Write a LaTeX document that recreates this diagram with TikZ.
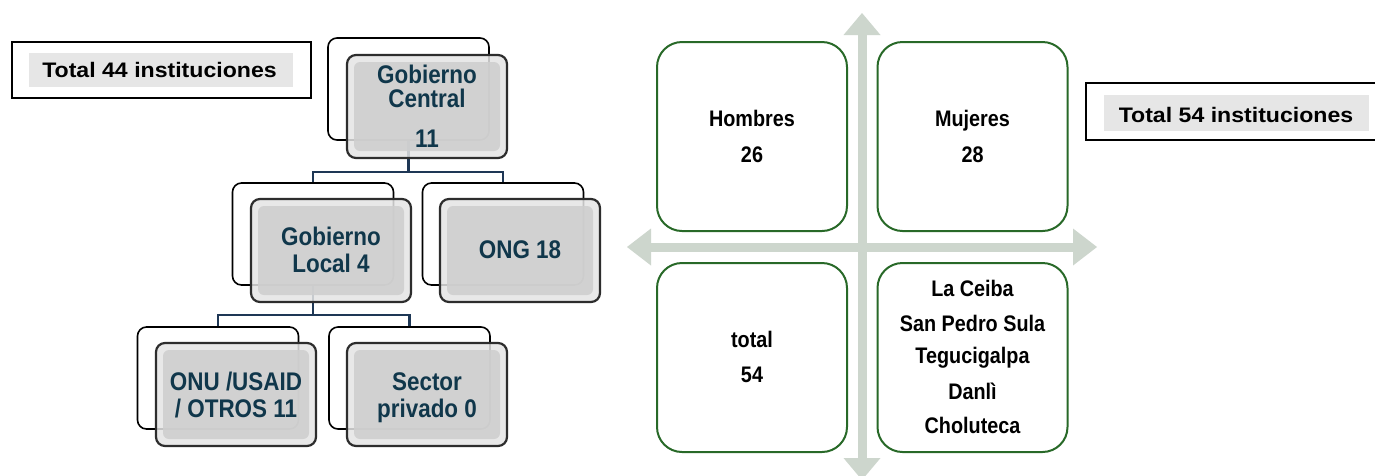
\documentclass[tikz,border=0pt]{standalone}
\usepackage{fontspec}
\setmainfont{Liberation Sans}
\newfontfamily\narrowf[FakeStretch=0.88]{Liberation Sans}
\newfontfamily\widef[FakeStretch=1.1]{Liberation Sans}
\definecolor{treetext}{RGB}{16,55,75}
\definecolor{conncol}{RGB}{30,55,85}
\definecolor{frontdraw}{RGB}{45,45,45}
\definecolor{frontfill}{RGB}{228,228,228}
\definecolor{bevelfill}{RGB}{206,206,206}
\definecolor{qgreen}{RGB}{40,105,40}
\definecolor{crosscol}{RGB}{205,214,205}
\definecolor{totgray}{RGB}{230,230,230}
\begin{document}
\begin{tikzpicture}[x=1pt,y=-1pt,
  back/.style={draw=black, line width=1.6pt, fill=white, rounded corners=9pt, minimum width=161pt, minimum height=102pt, inner sep=0pt},
  front/.style={draw=frontdraw, line width=2.2pt, fill=frontfill, fill opacity=0.85, rounded corners=9pt, minimum width=160pt, minimum height=103pt, inner sep=0pt},
  bevel/.style={fill=bevelfill, fill opacity=0.85, rounded corners=6pt, minimum width=146pt, minimum height=89pt, inner sep=0pt},
  conn/.style={draw=conncol, line width=2.5pt},
  ttext/.style={font=\narrowf\bfseries\fontsize{25.5}{30}\selectfont, text=treetext, anchor=base, inner sep=0pt},
  qtext/.style={font=\narrowf\bfseries\fontsize{22.5}{26}\selectfont, text=black, anchor=base, inner sep=0pt},
  tot/.style={font=\widef\bfseries\fontsize{21}{25}\selectfont, text=black, anchor=base, inner sep=0pt},
  quad/.style={draw=qgreen, line width=2pt, fill=white, rounded corners=25pt, minimum width=190pt, minimum height=189pt, inner sep=0pt},
  outerbox/.style={draw=black, line width=1.6pt, fill=white, inner sep=0pt},
  innerbox/.style={fill=totgray, inner sep=0pt}
]
\clip (0,0) rectangle (1375,475);
\fill[white] (0,0) rectangle (1375,475);

% ---------- left: tree ----------
\node[outerbox, minimum width=299pt, minimum height=56pt] (t44o) at (161.5,70) {};
\node[innerbox, minimum width=264pt, minimum height=34pt] (t44i) at (161,70) {};
\node[tot] (t44) at (159.5,77) {Total 44 instituciones};

\node[back] (gcb) at (408.5,89) {};
\node[back] (glb) at (313,234) {};
\node[back] (ongb) at (503,234) {};
\node[back] (onub) at (218,378) {};
\node[back] (secb) at (409.5,378) {};

\coordinate (j1) at (408.5,172);
\coordinate (j2) at (313,315);
\draw[conn] (gcb.south) -- (j1) -| (glb.north);
\draw[conn] (j1) -| (ongb.north);
\draw[conn] (glb.south) -- (j2) -| (onub.north);
\draw[conn] (j2) -| (secb.north);

\node[front] (gcf) at (427,106.5) {};
\node[bevel] (gcfi) at (gcf) {};
\node[front] (glf) at (331,250.5) {};
\node[bevel] (glfi) at (glf) {};
\node[front] (ongf) at (520,250.5) {};
\node[bevel] (ongfi) at (ongf) {};
\node[front] (onuf) at (236,394.5) {};
\node[bevel] (onufi) at (onuf) {};
\node[front] (secf) at (427,394.5) {};
\node[bevel] (secfi) at (secf) {};

\node[ttext] (gc1) at (427,83) {Gobierno};
\node[ttext] (gc2) at (427,107) {Central};
\node[ttext] (gc3) at (427,147) {11};
\node[ttext] (gl1) at (331,245) {Gobierno};
\node[ttext] (gl2) at (331,272) {Local 4};
\node[ttext] (ong1) at (520,258) {ONG 18};
\node[ttext] (onu1) at (236,390) {ONU /USAID};
\node[ttext] (onu2) at (236,417) {/ OTROS 11};
\node[ttext] (sec1) at (427,390) {Sector};
\node[ttext] (sec2) at (427,417) {privado 0};

% ---------- right: quadrants ----------
\fill[crosscol] (857.5,35) rectangle (866.5,458);
\fill[crosscol] (862,13) -- (880.5,35) -- (843.5,35) -- cycle;
\fill[crosscol] (862,480) -- (880.5,458) -- (843.5,458) -- cycle;
\fill[crosscol] (651,242.5) rectangle (1073,251.5);
\fill[crosscol] (627,247) -- (651,228.5) -- (651,265.5) -- cycle;
\fill[crosscol] (1097,247) -- (1073,228.5) -- (1073,265.5) -- cycle;

\node[quad] (hq) at (752,136.5) {};
\node[quad] (mq) at (972.5,136.5) {};
\node[quad] (tq) at (752,357.5) {};
\node[quad] (cq) at (972.5,357.5) {};

\node[qtext] (h1) at (752,126) {Hombres};
\node[qtext] (h2) at (752,162) {26};
\node[qtext] (m1) at (972.5,126) {Mujeres};
\node[qtext] (m2) at (972.5,162) {28};
\node[qtext] (tt1) at (752,347) {total};
\node[qtext] (tt2) at (752,382) {54};
\node[qtext] (c1) at (972.5,296) {La Ceiba};
\node[qtext] (c2) at (972.5,331) {San Pedro Sula};
\node[qtext] (c3) at (972.5,363) {Tegucigalpa};
\node[qtext] (c4) at (972.5,399) {Danlì};
\node[qtext] (c5) at (972.5,433) {Choluteca};

\node[outerbox, minimum width=294pt, minimum height=57pt] (t54o) at (1233,111.5) {};
\node[innerbox, minimum width=265pt, minimum height=36pt] (t54i) at (1236.5,113) {};
\node[tot] (t54) at (1236,122) {Total 54 instituciones};
\end{tikzpicture}
\end{document}
